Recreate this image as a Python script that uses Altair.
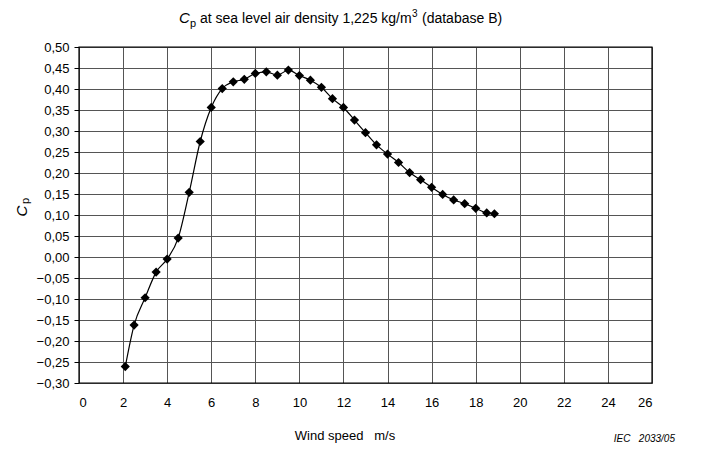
import altair as alt
import pandas as pd

wind = [2.1, 2.5, 3.0, 3.5, 4.0, 4.5, 5.0, 5.5, 6.0, 6.5, 7.0, 7.5, 8.0, 8.5, 9.0, 9.5,
        10.0, 10.5, 11.0, 11.5, 12.0, 12.5, 13.0, 13.5, 14.0, 14.5, 15.0, 15.5, 16.0,
        16.5, 17.0, 17.5, 18.0, 18.5, 18.85]
cp = [-0.261, -0.162, -0.097, -0.036, -0.005, 0.045, 0.154, 0.275, 0.356, 0.401, 0.417,
      0.423, 0.437, 0.441, 0.433, 0.445, 0.432, 0.421, 0.404, 0.377, 0.356, 0.326, 0.296,
      0.267, 0.245, 0.225, 0.201, 0.184, 0.166, 0.149, 0.136, 0.127, 0.116, 0.105, 0.103]

x_ticks = list(range(0, 27, 2))
y_ticks = [round(-0.30 + 0.05 * i, 2) for i in range(17)]

df = pd.DataFrame({"wind": wind, "cp": cp})

FONT = "Liberation Sans"
W, H = 573, 336
OX, OY = 79, 47  # plot origin on the page
NB = "\u00a0"

x_axis = alt.Axis(values=x_ticks, title=None,
                  labelFont=FONT, labelFontSize=13, labelPadding=13,
                  labelOverlap=False, tickSize=0, grid=True,
                  gridColor="#555555", gridWidth=1,
                  domain=False, labelColor="#000")
y_axis = alt.Axis(values=y_ticks, title=None,
                  labelExpr="replace(replace(format(datum.value, '.2f'), '.', ','), '-', '–')",
                  labelFont=FONT, labelFontSize=13, labelPadding=5,
                  labelOverlap=False, tickSize=5, tickColor="#000",
                  grid=True, gridColor="#555555",
                  gridWidth=1, domain=False, labelColor="#000")
x_scale = alt.Scale(domain=[0, 26], nice=False)
y_scale = alt.Scale(domain=[-0.30, 0.50], nice=False, zero=False)


def xe():
    return alt.X("wind:Q", scale=x_scale, axis=x_axis)


def ye():
    return alt.Y("cp:Q", scale=y_scale, axis=y_axis)


line = alt.Chart(df).mark_line(color="#000", strokeWidth=1.2, interpolate="monotone").encode(
    x=xe(), y=ye())
pts = alt.Chart(df).mark_point(shape="diamond", filled=True, color="#000", size=85,
                               opacity=1).encode(x=xe(), y=ye())

frame = alt.Chart(pd.DataFrame({"a": [0]})).mark_rect(
    fill=None, stroke="#000", strokeWidth=1.2).encode(
    x=alt.value(0), x2=alt.value(W), y=alt.value(0), y2=alt.value(H))


def txt(text, x, y, size=13, style="normal", angle=0, align="left", baseline="alphabetic"):
    kw = dict(text=text, font=FONT, fontSize=size, fontStyle=style, color="#000",
              align=align, baseline=baseline)
    if angle:
        kw["angle"] = angle
    return alt.Chart(pd.DataFrame({"a": [0]})).mark_text(**kw).encode(
        x=alt.value(x - OX), y=alt.value(y - OY))


title = [
    txt("C", 179, 23, size=15, style="italic"),
    txt("p", 190, 27, size=11),
    txt("at sea level air density 1,225 kg/m", 200, 23, size=14),
    txt("3", 412, 17, size=10),
    txt("(database B)", 422, 23, size=14),
]
ylab = [
    txt("C", 22, 211, size=15, style="italic", angle=270, align="center", baseline="middle"),
    txt("p", 26, 201, size=11, angle=270, align="center", baseline="middle"),
]
xlab = txt("Wind speed" + NB * 3 + "m/s", 345, 436, size=13, align="center", baseline="middle")
iec = txt("IEC" + NB * 3 + "2033/05", 675, 439, size=10, style="italic", align="right",
          baseline="middle")

chart = alt.layer(line, pts, frame, *title, *ylab, xlab, iec).properties(
    width=W, height=H, padding={"left": 71, "top": 39, "right": 43, "bottom": 62},
    autosize=alt.AutoSizeParams(type="none"),
).configure_view(stroke=None).configure(background="white")

chart.save("out.html", embed_options={"renderer": "svg", "actions": False})
